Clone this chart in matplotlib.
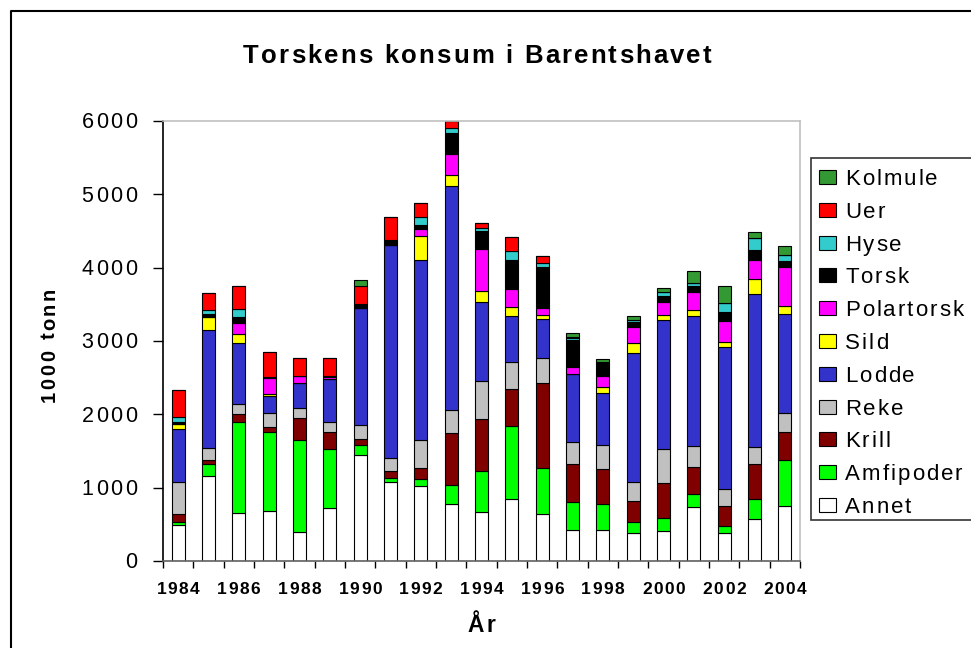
import numpy as np
import matplotlib
matplotlib.use('Agg')
import matplotlib.pyplot as plt
from matplotlib.patches import Rectangle
from matplotlib.lines import Line2D
from matplotlib.transforms import IdentityTransform
from matplotlib.font_manager import FontProperties, findfont
from matplotlib.ft2font import FT2Font

W, H = 971, 648
FONT = 'Liberation Sans'

years = list(range(1984, 2005))

# 1000 tonn per prey group, bottom of the stack first
annet     = [497, 1153, 661, 679, 401, 724, 1440, 1075, 1016, 774, 670, 852, 638, 428, 428, 387, 415, 733, 387, 574, 747]
amfipoder = [36, 164, 1230, 1084, 1244, 798, 136, 59, 105, 256, 556, 984, 629, 383, 356, 146, 168, 174, 87, 278, 624]
krill     = [105, 59, 109, 64, 309, 237, 87, 87, 146, 719, 706, 515, 1157, 510, 473, 287, 474, 369, 273, 465, 388]
reke      = [437, 159, 137, 187, 128, 141, 196, 178, 378, 310, 524, 360, 341, 305, 319, 255, 465, 291, 232, 232, 255]
lodde     = [729, 1618, 833, 241, 342, 578, 1585, 2915, 2460, 3048, 1079, 628, 538, 921, 720, 1763, 1767, 1772, 1937, 2096, 1353]
sild      = [64, 177, 128, 27, 0, 0, 0, 0, 323, 160, 146, 123, 50, 0, 82, 128, 60, 82, 77, 200, 105]
polartorsk = [0, 0, 141, 219, 95, 28, 0, 0, 100, 287, 579, 251, 91, 104, 150, 223, 182, 251, 274, 264, 542]
torsk     = [27, 32, 87, 14, 9, 22, 55, 55, 60, 287, 237, 396, 561, 365, 169, 68, 86, 73, 127, 128, 77]
hyse      = [64, 55, 109, 0, 0, 0, 0, 10, 100, 68, 50, 114, 59, 22, 23, 28, 55, 50, 123, 168, 87]
uer       = [369, 232, 319, 332, 237, 237, 246, 314, 196, 91, 68, 196, 100, 20, 0, 0, 0, 0, 0, 0, 0]
kolmule   = [0, 0, 0, 0, 0, 0, 86, 0, 0, 0, 0, 0, 0, 53, 32, 50, 46, 159, 237, 82, 118]

names = ['Annet', 'Amfipoder', 'Krill', 'Reke', 'Lodde', 'Sild',
         'Polartorsk', 'Torsk', 'Hyse', 'Uer', 'Kolmule']
values = [annet, amfipoder, krill, reke, lodde, sild,
          polartorsk, torsk, hyse, uer, kolmule]
colors = ['#ffffff', '#00ff00', '#800000', '#c0c0c0', '#3333cc', '#ffff00',
          '#ff00ff', '#000000', '#33cccc', '#ff0000', '#339933']

fig = plt.figure(figsize=(W / 100, H / 100), dpi=100)
ax = fig.add_axes([163 / W, (H - 561) / H, 637 / W, 440 / H])


def spaced(xd, yd, s, size, gap, weight='normal', ha='left', rot=0):
    """Draw s one glyph at a time with extra letter spacing (display px)."""
    ft = FT2Font(findfont(FontProperties(family=FONT, weight=weight)))
    ft.set_size(size, 100)
    adv = [ft.load_char(ord(c)).linearHoriAdvance / 65536 for c in s]
    total = sum(adv) + gap * (len(s) - 1)
    pos = -{'left': 0, 'center': total / 2, 'right': total}[ha]
    for c, a in zip(s, adv):
        px, py = (xd + pos, yd) if rot == 0 else (xd, yd + pos)
        fig.text(px, py, c, transform=IdentityTransform(), fontsize=size,
                 family=FONT, weight=weight, ha='left', va='baseline',
                 rotation=rot, rotation_mode='anchor')
        pos += a + gap


x = np.arange(len(years))
bottom = np.zeros(len(years))
for name, vals, col in zip(names, values, colors):
    ax.bar(x, vals, 0.43, bottom=bottom, color=col, edgecolor='black',
           linewidth=0.8, label=name)
    bottom += np.array(vals)

ax.set_xlim(-0.5, len(years) - 0.5)
ax.set_ylim(0, 6000)
ax.set_xticks(np.arange(-0.5, len(years)))
ax.set_xticklabels([])
yticks = list(range(0, 6001, 1000))
ax.set_yticks(yticks)
ax.set_yticklabels([])
ax.tick_params(axis='x', length=5, width=1, color='black')
ax.tick_params(axis='y', length=7, width=1, color='black')
ax.spines['left'].set_color('black')
ax.spines['bottom'].set_color('#606060')
ax.spines['top'].set_color('#c0c0c0')
ax.spines['right'].set_color('#c0c0c0')
for s in ax.spines.values():
    s.set_linewidth(1.2)

fig.canvas.draw()

# tick labels
for v in yticks:
    xd, yd = ax.transData.transform((-0.5, v))
    spaced(137, yd - 7.5, str(v), 15.5, 2.5, ha='right')
for i, yr in enumerate(years):
    if yr % 2 == 0:
        xd, yd = ax.transData.transform((i, 0))
        spaced(xd, H - 594, str(yr), 12.5, 1.5, weight='bold', ha='center')

# titles
spaced(477, H - 63, 'Torskens konsum i Barentshavet', 18.5, 2.2, weight='bold', ha='center')
spaced(481, H - 632, 'År', 16.5, 2.5, weight='bold', ha='center')
spaced(55, H - 345, '1000 tonn', 14.5, 2.6, weight='bold', ha='center', rot=90)

# legend, top entry is the top of the stack
fig.add_artist(Rectangle((811, H - 520), 200, 362, transform=IdentityTransform(),
                         facecolor='white', edgecolor='#333333', linewidth=1.2))
for k, (name, col) in enumerate(zip(names[::-1], colors[::-1])):
    cy = H - (177 + k * 32.8)
    fig.add_artist(Rectangle((819, cy - 7), 17, 14, transform=IdentityTransform(),
                             facecolor=col, edgecolor='black', linewidth=0.8))
    spaced(845, cy - 8, name, 16, 2.0)

# outer chart frame
fig.add_artist(Line2D([11, 11, W + 5], [-5, H - 11, H - 11], transform=IdentityTransform(),
                      color='black', linewidth=1.5))

fig.savefig('out.png', dpi=100)
